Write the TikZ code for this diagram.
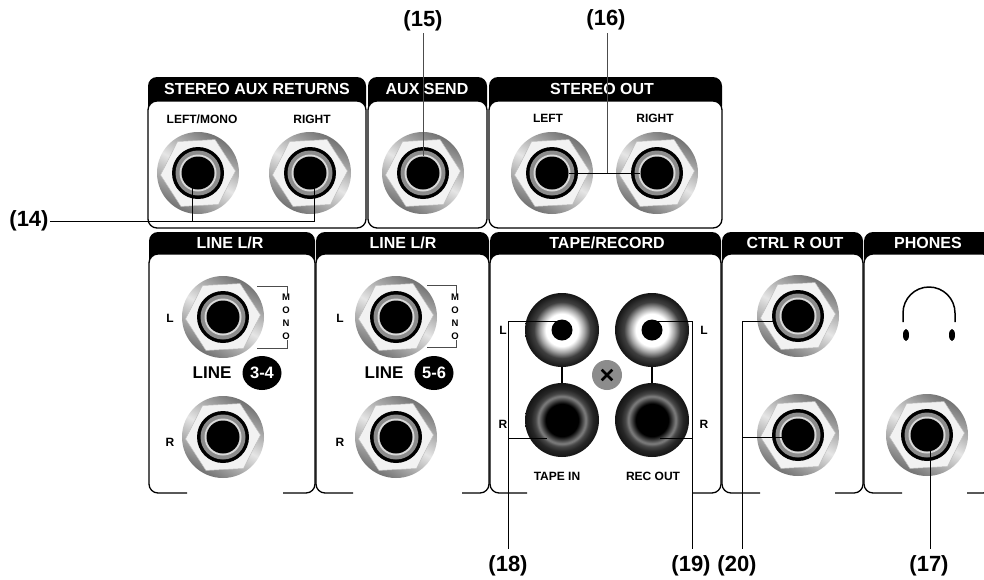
\documentclass[tikz,border=0pt]{standalone}
\usepackage{fontspec}
\setmainfont{Liberation Sans}
\usetikzlibrary{shapes.geometric, shapes.misc}
\pgfdeclareradialshading{rcawhite}{\pgfpoint{0bp}{0bp}}{color(0bp)=(white); color(11bp)=(white); color(15bp)=(black!35); color(19bp)=(black!75); color(25bp)=(black!92); color(50bp)=(black!92)}
\pgfdeclareradialshading{rcadark}{\pgfpoint{0bp}{0bp}}{color(0bp)=(black); color(11bp)=(black); color(14bp)=(black!70); color(16bp)=(black!50); color(18bp)=(black!72); color(21bp)=(black!85); color(25bp)=(black!92); color(50bp)=(black!92)}
\begin{document}
\begin{tikzpicture}[x=1pt, y=-1pt,
    panelline/.style={line width=1.3pt, rounded corners=9pt},
    headerfill/.style={fill=black, rounded corners=9pt},
    headertext/.style={text=white, font=\bfseries\fontsize{16}{17}\selectfont, inner sep=0pt},
    sublabel/.style={font=\bfseries\fontsize{12}{13}\selectfont, inner sep=0pt},
    callout/.style={font=\bfseries\fontsize{22}{23}\selectfont, inner sep=1pt},
    leader/.style={line width=0.9pt, black},
    nut/.style={circle, minimum size=82pt, inner sep=0pt, top color=black!55, bottom color=black!55, middle color=black!10, shading angle=-30},
    hexnut/.style={regular polygon, regular polygon sides=6, minimum size=75pt, inner sep=0pt, fill=black!5, draw=black!25, line width=0.5pt, rotate=3},
    bore/.style={circle, inner sep=0pt, minimum size=#1},
    rcaplug/.style={circle, minimum size=74pt, inner sep=0pt, shading=#1}
]

    % keep the page to the size of the scan
    \useasboundingbox (0,0) rectangle (984,579);
    \clip (0,0) rectangle (984,579);

    % upper row of panels
    \foreach \name/\xa/\xb/\xt/\txt in {auxret/148/366/257/{STEREO AUX RETURNS}, auxsnd/368/487/427/{AUX SEND}, stout/489/722/602/{STEREO OUT}} {
        \fill[headerfill] (\xa,77) rectangle (\xb,115);
        \filldraw[panelline, fill=white] (\xa,101) rectangle (\xb,228);
        \node[headertext] (\name) at (\xt,89) {\txt};
    }
    % lower row of panels, their bottom edges stay open
    \foreach \name/\xa/\xb/\xc/\xd/\xt/\txt in {linea/149/315/187/283/230/{LINE L/R}, lineb/316/489/353/462/403/{LINE L/R}, tape/490/721/527/693/607/{TAPE/RECORD}, ctrl/722/863/760/835/795/{CTRL R OUT}, phones/864/992/902/967/928/{PHONES}} {
        \fill[headerfill] (\xa,232) rectangle (\xb,270);
        \fill[white, rounded corners=9pt] (\xa,254) rectangle (\xb,493);
        \draw[panelline] (\xc,493) -- (\xa,493) -- (\xa,254) -- (\xb,254) -- (\xb,493) -- (\xd,493);
        \node[headertext] (\name) at (\xt,243) {\txt};
    }

    % the jack sockets
    \foreach \name/\x/\y in {retl/198/173, retr/310/173, send/423/173, outl/552/173, outr/657/173, lina/223/317, linb/223/437, linc/396/317, lind/396/437, ctla/798/316, ctlb/798/435, phon/927/435} {
        \node[nut] at (\x,\y) {};
        \node[hexnut] at (\x,\y) {};
        \node[bore=52pt, fill=black] at (\x,\y) {};
        \node[bore=45pt, fill=black!45] at (\x,\y) {};
        \node[bore=37pt, fill=black!15] at (\x,\y) {};
        \node[bore=33pt, fill=black] (\name) at (\x,\y) {};
    }

    % the tape sockets and the screw between them
    \node[rcaplug=rcawhite] (tapel) at (562,330) {};
    \node[rcaplug=rcawhite] (recl) at (652,330) {};
    \node[rcaplug=rcadark] (taper) at (562,420) {};
    \node[rcaplug=rcadark] (recr) at (652,420) {};
    \node[bore=21pt, fill=black] at (tapel) {};
    \node[bore=21pt, fill=black] at (recl) {};
    \draw[line width=1.2pt] (tapel.south) -- (taper.north);
    \draw[line width=1.2pt] (recl.south) -- (recr.north);
    \node[bore=30pt, fill=black!45] (screw) at (607,375) {};
    \node[cross out, draw=black, line width=2.6pt, minimum size=8pt, inner sep=0pt] at (screw) {};

    % small labels on the panel
    \foreach \name/\x/\y/\txt in {lblone/202/119/{LEFT/MONO}, lbltwo/312/119/RIGHT, lblthree/548/118/LEFT, lblfour/655/118/RIGHT, lblfive/170/318/L, lblsix/170/442/R, lblseven/340/318/L, lbleight/340/442/R, lblnine/503/330/L, lblten/503/424/R, lbleleven/704/330/L, lbltwelve/704/424/R, lblin/557/476/{TAPE IN}, lblout/653/476/{REC OUT}} {
        \node[sublabel] (\name) at (\x,\y) {\txt};
    }

    % mono brackets beside the left jacks
    \draw[line width=0.5pt, black!70] (257,286) -- (287,286) -- (287,348) -- (257,348);
    \draw[line width=0.5pt, black!70] (427,285) -- (456,285) -- (456,347) -- (427,347);
    \foreach \name/\x in {monoa/286, monob/455} {
        \node[fill=white, inner sep=0.5pt, align=center, font=\bfseries\fontsize{9.5}{13}\selectfont] (\name) at (\x,317) {M\\O\\N\\O};
    }

    % the line badges
    \node[font=\bfseries\fontsize{17}{18}\selectfont, inner sep=0pt] (linetxta) at (212,373) {LINE};
    \node[font=\bfseries\fontsize{17}{18}\selectfont, inner sep=0pt] (linetxtb) at (384,373) {LINE};
    \node[ellipse, fill=black, text=white, minimum width=39pt, minimum height=34pt, inner sep=0pt, font=\bfseries\fontsize{16.5}{17}\selectfont] (badgea) at (262,373) {3-4};
    \node[ellipse, fill=black, text=white, minimum width=39pt, minimum height=34pt, inner sep=0pt, font=\bfseries\fontsize{16.5}{17}\selectfont] (badgeb) at (434,373) {5-6};

    % headphones sign
    \draw[line width=1.5pt] (903,322) -- (903,313) arc[start angle=180, end angle=360, radius=26] -- (955,322);
    \fill (906,335) ellipse (3 and 6);
    \fill (952,335) ellipse (3 and 6);

    % the numbers round the picture
    \node[callout] (n14) at (29,221) {(14)};
    \node[callout] (n15) at (423,21) {(15)};
    \node[callout] (n16) at (606,20) {(16)};
    \node[callout] (n18) at (508,566) {(18)};
    \node[callout] (n19) at (691,566) {(19)};
    \node[callout] (n20) at (737,566) {(20)};
    \node[callout] (n17) at (929,566) {(17)};

    % where the leaders end on the sockets
    \coordinate (tipa) at (192,188);
    \coordinate (tipb) at (314,188);
    \coordinate (tipc) at (547,438);
    \coordinate (tipd) at (660,438);
    \coordinate (tipe) at (782,437);
    \coordinate (tipf) at (930,450);
    \coordinate (tipg) at (775,321);
    \coordinate (foota) at (508,549);
    \coordinate (footb) at (692,549);
    \coordinate (footc) at (742,549);
    \coordinate (footd) at (930,549);

    % leaders
    \draw[leader] (n14.east) -- (n14.east -| tipb) -- (tipb);
    \draw[leader] (tipa) -- (tipa |- n14.east);
    \draw[leader, black!70] (423,33) -- (send.north);
    \draw[leader, black!70] (607,33) -- (607,173);
    \draw[leader] (outl.east) -- (outr.west);
    \draw[leader] (tapel.center |- 0,321) -- (foota |- 0,321) -- (foota);
    \draw[leader] (tipc) -- (foota |- tipc);
    \draw[leader] (recl.center |- 0,321) -- (footb |- 0,321) -- (footb);
    \draw[leader] (tipd) -- (footb |- tipd);
    \draw[leader] (tipg) -- (footc |- tipg) -- (footc);
    \draw[leader] (tipe) -- (footc |- tipe);
    \draw[leader] (tipf) -- (footd);
\end{tikzpicture}
\end{document}
